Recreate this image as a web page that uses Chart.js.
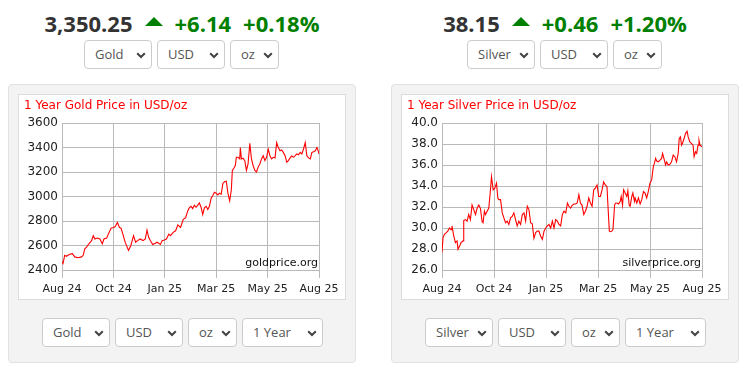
<!DOCTYPE html>
<html>
<head>
<meta charset="utf-8">
<script src="https://cdn.jsdelivr.net/npm/chart.js@4.4.1/dist/chart.umd.min.js"></script>
<style>
    body { margin: 0; width: 745px; height: 370px; background: #fff; font-family: 'Open Sans', sans-serif; position: relative; overflow: hidden; }
    .headline { position: absolute; top: 8px; display: flex; justify-content: center; align-items: center; gap: 12px; font-size: 22px; font-weight: bold; line-height: 30px; }
    .headline .price { color: #333; }
    .headline .up { color: #008000; }
    .headline .arrow { width: 0; height: 0; border-left: 9px solid transparent; border-right: 9px solid transparent; border-bottom: 9px solid #008000; margin-top: -3px; }
    .sel { position: absolute; height: 27px; border: 1px solid #ccc; border-radius: 4px; background: #fff; box-sizing: content-box; font-size: 13px; color: #555; line-height: 27px; padding-left: 10px; }
    .sel svg { position: absolute; right: 5px; top: 11px; }
    .panel { position: absolute; top: 84px; width: 346px; height: 277px; background: #f3f3f3; border: 1px solid #e2e2e2; border-radius: 4px; }
    .chartbox { position: absolute; top: 94px; width: 326px; height: 204px; background: #fff; border: 1px solid #dcdcdc; }
    .chartbox canvas { display: block; }
</style>
</head>
<body>

<div class="headline" style="left: 8px; width: 348px;">
    <span class="price">3,350.25</span><span class="arrow"></span><span class="up">+6.14</span><span class="up">+0.18%</span>
</div>
<div class="headline" style="left: 391px; width: 348px;">
    <span class="price">38.15</span><span class="arrow"></span><span class="up">+0.46</span><span class="up">+1.20%</span>
</div>

<div class="panel" style="left: 8px;"></div>
<div class="panel" style="left: 391px;"></div>

<div class="chartbox" style="left: 18px;"><canvas id="goldChart" width="326" height="204"></canvas></div>
<div class="chartbox" style="left: 401px;"><canvas id="silverChart" width="326" height="204"></canvas></div>

<div id="selects"></div>

<script>
// x axis: trading days over the year, ticks every 50 days
const tickLabels = ['Aug 24', 'Oct 24', 'Jan 25', 'Mar 25', 'May 25', 'Aug 25'];

const goldDays = [0, 1, 2.6, 4.2, 7.5, 10.1, 12.4, 15.7, 19, 20.6, 22.2, 23.9, 26.5, 28.8, 30.4, 32, 34.3, 36.9, 39.2, 40.8,
    43.5, 45.8, 47.7, 50, 51.6, 53.9, 55.9, 57.5, 59.2, 61.4, 64.7, 67, 69.6, 71.6, 73.5, 76.1, 78.8, 81, 82.7, 84.3,
    85.9, 88.2, 90.8, 92.5, 95.7, 97.4, 99.6, 101.6, 103.9, 105.5, 108.2, 110.5, 112.7, 115.3, 118, 120.3,
    122.2, 123.8, 125.5, 127.1, 128.7, 130.4, 132, 133.6, 135.3, 136.9, 138.5, 140.2, 141.8, 143.4, 145.1, 146.7, 148.3, 150, 151.6, 153.2,
    154.9, 156.5, 158.1, 159.8, 161.4, 163.1, 164.7, 165.7, 167.3, 168.6, 169.6, 171.2, 172.9, 173.5, 174.5, 176.1, 177.8, 179.4, 181, 182.7,
    184.3, 185.9, 187.6, 189.2, 190.8, 192.5, 194.1, 195.7, 197.4, 199, 200.6, 202.3, 203.9, 205.5, 207.2, 208.8, 210.4, 212.1, 213.7, 215.3,
    217, 218.6, 220.2, 221.9, 223.5, 225.1, 226.8, 228.4, 230, 231.7, 233.3, 234.9, 236.6, 238.2, 239.8, 241.5, 243.1, 244.7, 246.4, 248, 249, 250];
const goldPrices = [2467, 2453, 2520, 2512, 2528, 2533, 2507, 2500, 2507, 2520, 2573, 2587, 2618, 2640, 2680, 2653, 2661, 2653, 2613, 2653,
    2661, 2707, 2741, 2747, 2752, 2787, 2747, 2741, 2693, 2627, 2560, 2600, 2680, 2627, 2640, 2653, 2640, 2653, 2725, 2667,
    2640, 2608, 2619, 2627, 2608, 2640, 2645, 2653, 2693, 2680, 2707, 2720, 2768, 2747, 2813, 2827,
    2880, 2907, 2920, 2901, 2928, 2912, 2928, 2947, 2912, 2853, 2907, 2920, 2893, 2920, 2987, 3008, 3035, 3027, 3013, 3027,
    3019, 3107, 3120, 3125, 3027, 2965, 3053, 3213, 3232, 3253, 3320, 3320, 3307, 3400, 3307, 3312, 3293, 3213, 3267, 3435,
    3307, 3253, 3213, 3200, 3240, 3267, 3307, 3333, 3293, 3320, 3387, 3333, 3307, 3320, 3315, 3440, 3400, 3373, 3380, 3360,
    3333, 3280, 3293, 3315, 3333, 3320, 3333, 3347, 3340, 3360, 3347, 3387, 3440, 3333, 3315, 3307, 3360, 3365, 3373, 3400, 3380, 3347];

const silverDays = [0, 1, 2.3, 4.2, 5.5, 7.4, 8.7, 9.6, 11.3, 12.9, 14.5, 15.4, 17, 18.3, 20.3, 20.9, 22.5, 24.1, 25.7, 27.3,
    28.9, 30.5, 32.2, 33.8, 35.4, 37, 38.6, 39.5, 40.8, 41.8, 43.4, 45, 46.6, 47.6, 49.2, 50.8, 52.4, 53.7, 54.7, 56.3,
    57.9, 59.5, 61.1, 62.7, 64.3, 65.9, 67.5, 69.1, 70.7, 72.3, 73.9, 75.6, 77.2, 78.8, 80.4, 82, 83.6, 85.2, 86.8, 88.4,
    90, 91.6, 93.2, 94.8, 96.5, 98.1, 99.7, 101.3, 102.9, 104.5, 106.1, 107.7, 109.3, 110.9, 112.5, 114.1, 115.7, 117.3, 119, 120.6,
    122, 123.6, 125.2, 126.8, 128.4, 130, 131.6, 133.1, 134.7, 136.3, 137.9, 139.5, 141.1, 142.7, 144.3, 145.9, 147.5, 149.1, 150.7, 152.3,
    153.9, 155.4, 157, 158.6, 160.2, 160.9, 161.8, 163.4, 164.4, 166, 167.2, 168.2, 169.8, 171.4, 172.3, 173.6, 174.6, 176.1, 177.7, 178.7,
    180, 180.9, 182.5, 183.5, 185.1, 185.7, 187.3, 188.9, 190.5, 192.1, 193.7, 195.3, 196.8, 198.4, 200, 201.6, 203.2, 204.2, 205.4, 206.4,
    208, 209.6, 211.2, 212.1, 213.4, 215, 216, 217.5, 219.1, 220.7, 222.3, 223.9, 225.5, 227.1, 228.1, 229.3, 230.3, 231.2, 232.8, 234.1,
    235.7, 236.7, 238.3, 239.8, 241.4, 242.4, 243.7, 244.9, 246.2, 247.1, 248.1, 250];
const silverPrices = [27.67, 29.08, 29.4, 29.55, 29.7, 30.0, 29.85, 30.2, 29.24, 28.6, 28.77, 27.98, 28.3, 28.6, 28.77, 30.7, 30.8, 30.65, 31.28, 30.8,
    32.2, 31.75, 31.28, 31.9, 32.2, 31.85, 30.6, 30.5, 31.6, 31.28, 31.6, 31.9, 33.64, 34.9, 33.64, 33.8, 34.27, 32.86, 32.7, 32.7,
    31.44, 30.97, 30.5, 30.65, 30.34, 30.97, 31.1, 31.44, 30.8, 30.2, 30.65, 30.34, 31.28, 31.44, 30.65, 32.07, 31.75, 30.5, 30.4, 29.02,
    29.55, 29.7, 29.7, 29.24, 28.92, 29.7, 30.0, 30.2, 30.34, 30.0, 30.65, 30.0, 30.8, 30.65, 30.34, 30.2, 31.28, 31.6, 31.44, 32.38,
    32.07, 31.9, 32.16, 32.29, 32.29, 32.38, 33.17, 32.38, 32.16, 31.28, 31.6, 32.07, 32.86, 32.38, 32.07, 33.64, 33.8, 34.1, 33.0, 33.0,
    33.64, 34.4, 34.1, 33.96, 30.97, 29.7, 29.65, 29.7, 29.87, 32.23, 32.38, 32.38, 32.29, 32.54, 33.0, 32.16, 33.64, 33.33, 33.0, 33.55,
    32.16, 32.07, 33.0, 33.33, 32.54, 32.86, 32.38, 32.86, 32.29, 32.7, 33.48, 33.33, 32.86, 33.48, 34.27, 34.58, 35.84, 36.16, 36.63, 36.38,
    36.3, 36.47, 36.63, 37.1, 36.63, 36.0, 36.3, 36.0, 36.06, 36.3, 36.94, 36.79, 36.3, 37.1, 38.52, 38.67, 37.89, 38.05, 38.52, 38.99,
    39.2, 38.67, 38.2, 38.05, 37.89, 36.79, 37.26, 37.1, 37.89, 38.36, 37.89, 37.73];

// dropdowns: [left, width, text, top]
const selectBoxes = [
    [84, 68, 'Gold', 40], [157, 68, 'USD', 40], [230, 49, 'oz', 40],
    [467, 68, 'Silver', 40], [540, 68, 'USD', 40], [613, 49, 'oz', 40],
    [42, 68, 'Gold', 318], [115, 68, 'USD', 318], [188, 49, 'oz', 318], [242, 81, '1 Year', 318],
    [425, 68, 'Silver', 318], [498, 68, 'USD', 318], [571, 49, 'oz', 318], [625, 81, '1 Year', 318]
];

const chevron = '<svg width="10" height="7" viewBox="0 0 10 7"><path d="M1.2 1.2 L5 5 L8.8 1.2" fill="none" stroke="#444" stroke-width="2"/></svg>';
const selectsEl = document.getElementById('selects');
selectBoxes.forEach(([left, width, text, top]) => {
    const box = document.createElement('div');
    box.className = 'sel';
    box.style.left = left + 'px';
    box.style.top = top + 'px';
    box.style.width = (width - 12) + 'px';
    box.innerHTML = `${text}${chevron}`;
    selectsEl.appendChild(box);
});

Chart.defaults.font.family = "'DejaVu Sans', sans-serif";

const watermark = {
    id: 'watermark',
    afterDatasetsDraw(chart, args, opts) {
        const { ctx, chartArea } = chart;
        ctx.save();
        ctx.font = "11px 'DejaVu Sans'";
        ctx.fillStyle = '#111';
        ctx.textAlign = 'right';
        ctx.textBaseline = 'alphabetic';
        ctx.fillText(opts.text, chartArea.right - 1, chartArea.bottom - 4);
        ctx.restore();
    }
};

const buildChart = (canvasId, days, prices, cfg) => {
    const gridColor = '#b9b9b9';
    return new Chart(document.getElementById(canvasId), {
        type: 'line',
        data: {
            datasets: [{
                data: days.map((d, i) => ({ x: d, y: prices[i] })),
                borderColor: '#ff0000',
                borderWidth: 1.1,
                pointRadius: 0,
                tension: 0,
                fill: false
            }]
        },
        options: {
            responsive: false,
            animation: false,
            devicePixelRatio: 1,
            layout: { padding: { left: 5, right: 26, top: 0, bottom: 0 } },
            plugins: {
                legend: { display: false },
                tooltip: { enabled: false },
                title: {
                    display: true,
                    text: cfg.title,
                    align: 'start',
                    color: '#ff0000',
                    font: { size: 12, weight: 'normal' },
                    padding: { top: 4, bottom: 9.6 }
                },
                watermark: { text: cfg.site }
            },
            scales: {
                x: {
                    type: 'linear',
                    min: 0,
                    max: 250,
                    afterBuildTicks: (scale) => { scale.ticks = tickLabels.map((_, i) => ({ value: i * 50 })); },
                    afterFit: (scale) => { scale.height = 29; },
                    ticks: {
                        color: '#222',
                        font: { size: 11 },
                        padding: 5,
                        maxRotation: 0,
                        callback: (v) => tickLabels[v / 50]
                    },
                    grid: { color: gridColor, tickLength: 8, tickColor: gridColor },
                    border: { color: gridColor }
                },
                y: {
                    min: cfg.min,
                    max: cfg.max,
                    afterFit: (scale) => { scale.width = cfg.axisWidth; },
                    ticks: {
                        stepSize: cfg.step,
                        color: '#222',
                        font: { size: 12 },
                        padding: 4,
                        callback: (v) => cfg.decimals ? v.toFixed(cfg.decimals) : v
                    },
                    grid: { color: gridColor, drawTicks: false },
                    border: { color: gridColor }
                }
            }
        },
        plugins: [watermark]
    });
};

buildChart('goldChart', goldDays, goldPrices, {
    title: '1 Year Gold Price in USD/oz', site: 'goldprice.org',
    min: 2400, max: 3600, step: 200, decimals: 0, axisWidth: 38
});
buildChart('silverChart', silverDays, silverPrices, {
    title: '1 Year Silver Price in USD/oz', site: 'silverprice.org',
    min: 26, max: 40, step: 2, decimals: 1, axisWidth: 35
});
</script>
</body>
</html>
